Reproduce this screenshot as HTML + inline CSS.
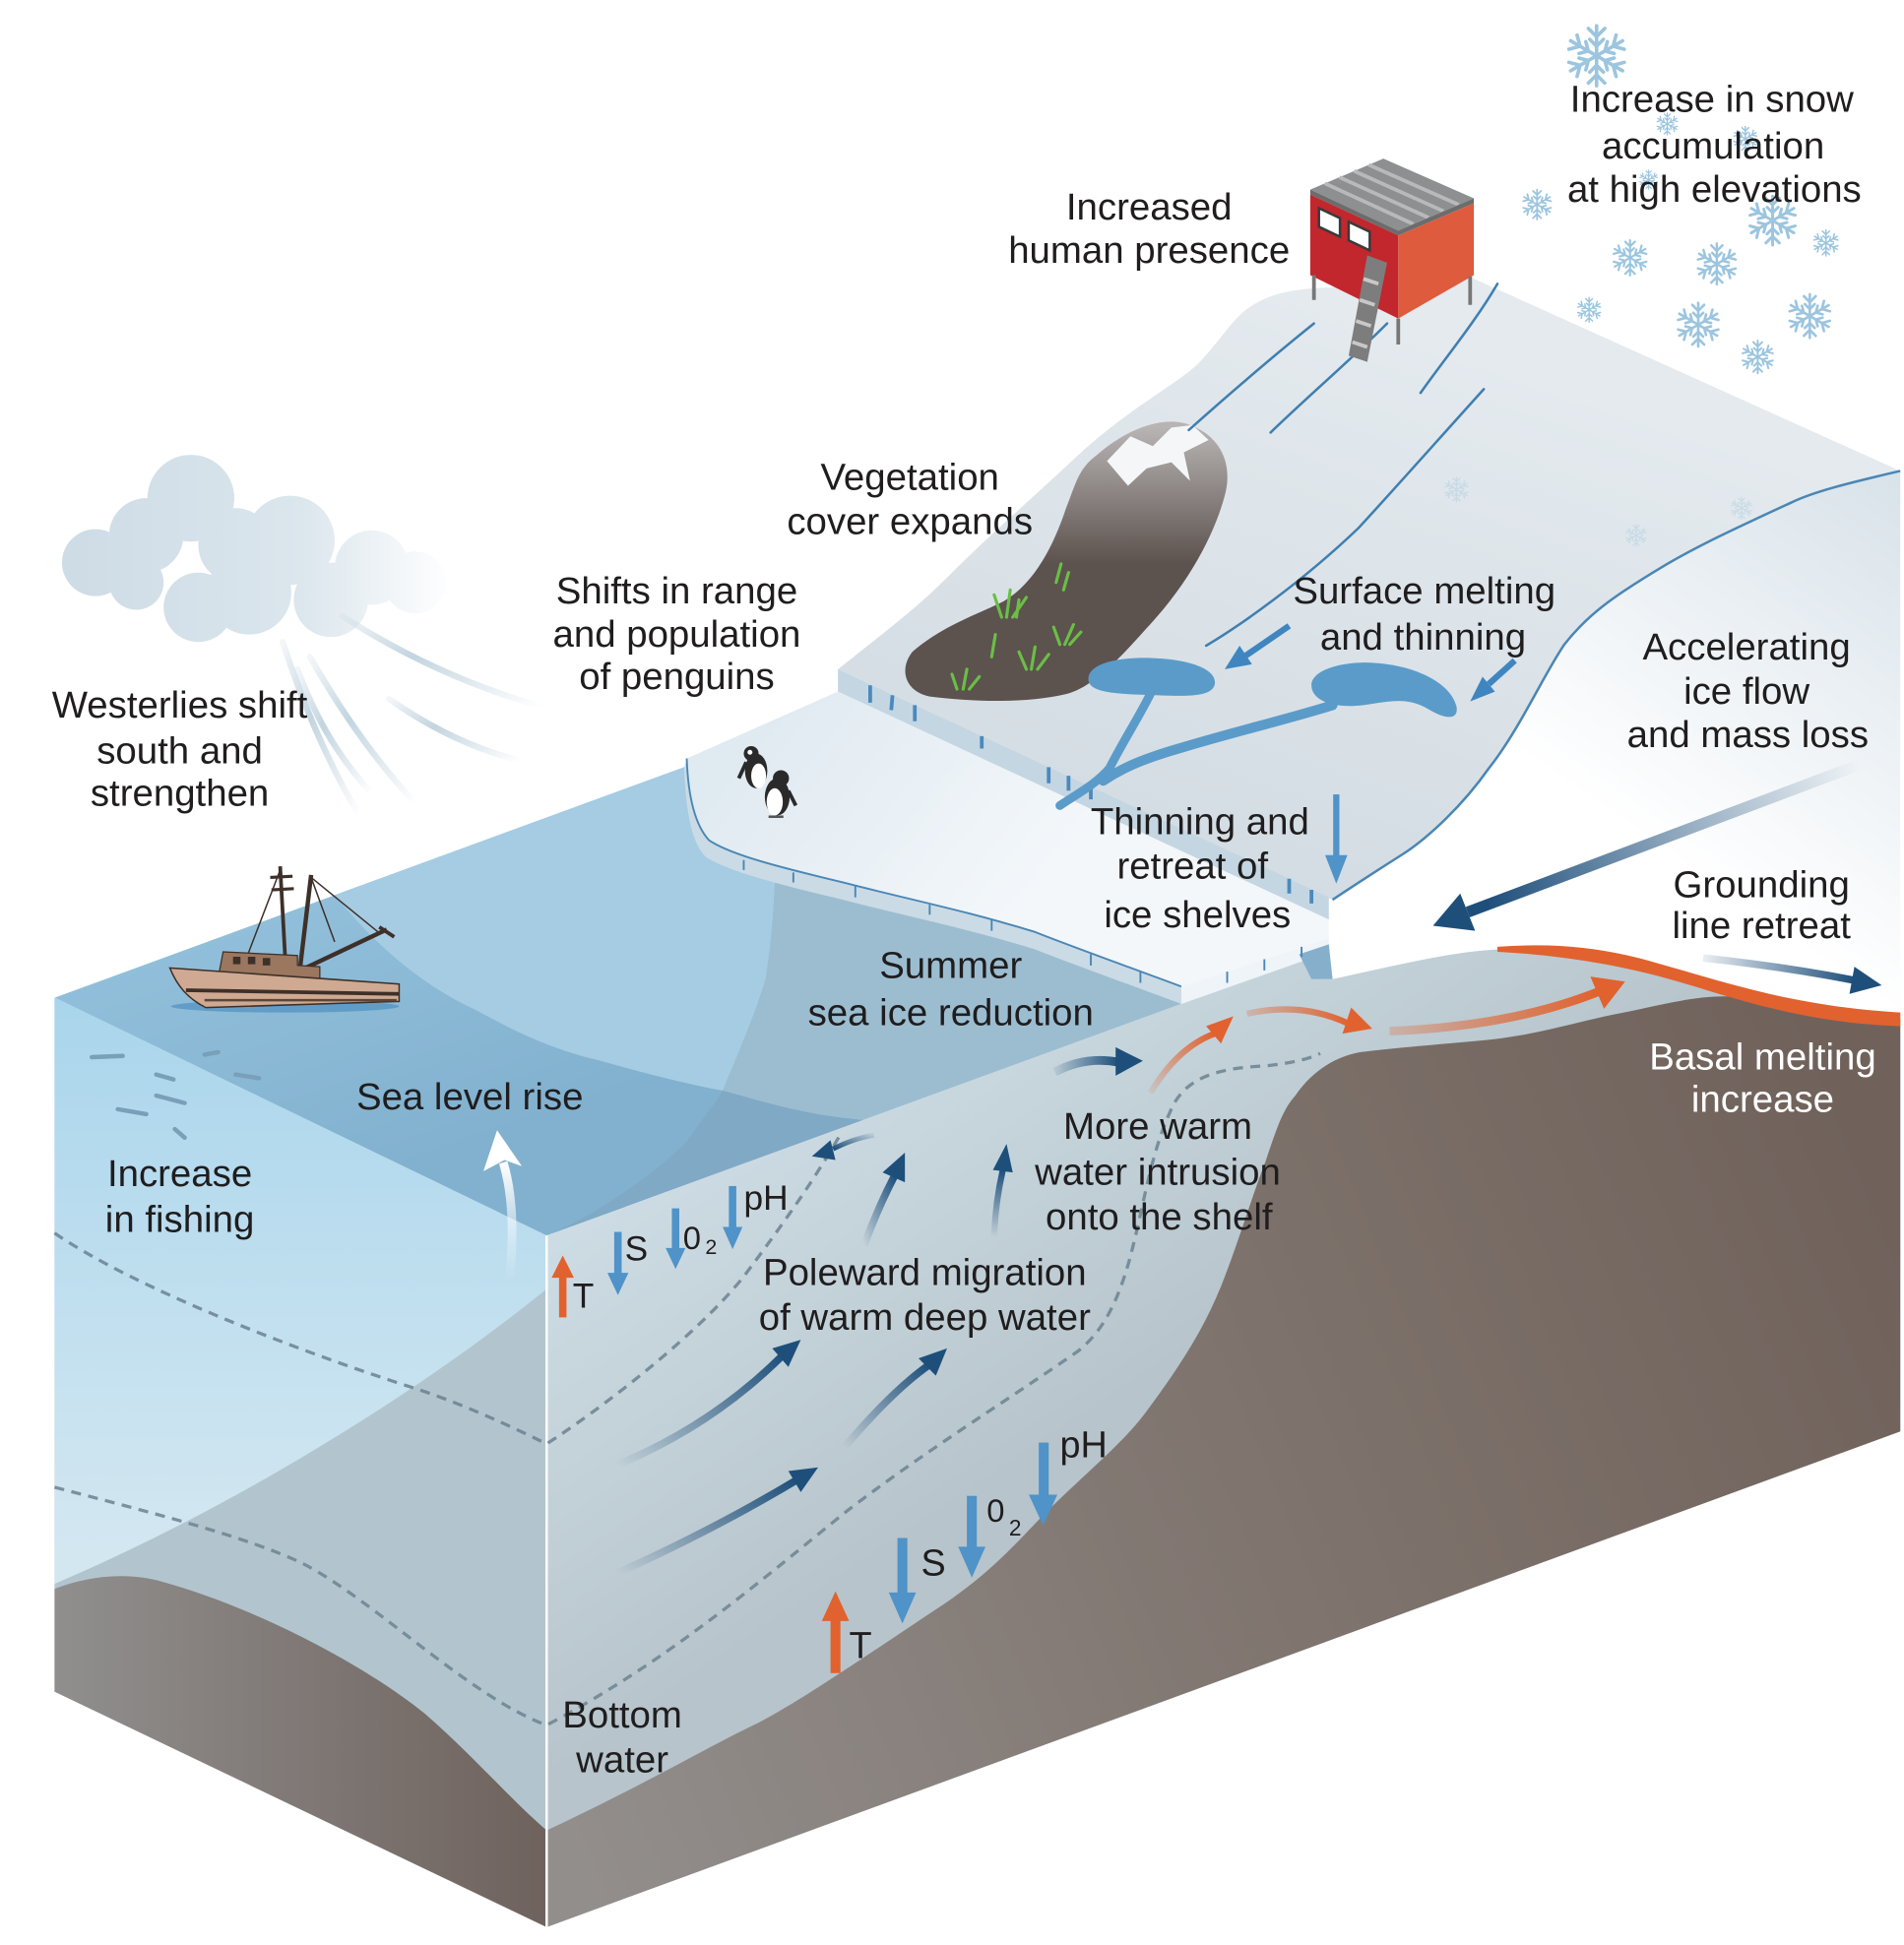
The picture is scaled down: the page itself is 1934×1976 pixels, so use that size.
<!DOCTYPE html>
<html><head><meta charset="utf-8"><style>html,body{margin:0;padding:0;background:#fff;}svg{display:block;}</style></head>
<body>
<svg width="1934" height="1976" viewBox="0 0 1536 1569.4" preserveAspectRatio="none" xmlns="http://www.w3.org/2000/svg">
<defs>
<linearGradient id="gTop" gradientUnits="userSpaceOnUse" x1="250" y1="712" x2="330" y2="940"><stop offset="0" stop-color="#92c0db"/><stop offset="1" stop-color="#82b1cf"/></linearGradient>
<linearGradient id="gLeftW" gradientUnits="userSpaceOnUse" x1="0" y1="805" x2="0" y2="1250"><stop offset="0" stop-color="#a9d5ec"/><stop offset="1" stop-color="#d3e7f1"/></linearGradient>
<linearGradient id="gLeftSea" gradientUnits="userSpaceOnUse" x1="44" y1="0" x2="441" y2="0"><stop offset="0" stop-color="#908f8e"/><stop offset="1" stop-color="#6f625d"/></linearGradient>
<linearGradient id="gFrontW" gradientUnits="userSpaceOnUse" x1="450" y1="1000" x2="650" y2="1300"><stop offset="0" stop-color="#cddce4"/><stop offset="1" stop-color="#b7c4cb"/></linearGradient>
<linearGradient id="gFrontSea" gradientUnits="userSpaceOnUse" x1="441" y1="1450" x2="1532" y2="1000"><stop offset="0" stop-color="#928e8c"/><stop offset="0.5" stop-color="#80756f"/><stop offset="1" stop-color="#70625b"/></linearGradient>
<linearGradient id="gIce" gradientUnits="userSpaceOnUse" x1="1100" y1="250" x2="950" y2="700"><stop offset="0" stop-color="#e4eaee"/><stop offset="1" stop-color="#d3dce3"/></linearGradient>
<linearGradient id="gIceR" gradientUnits="userSpaceOnUse" x1="1530" y1="390" x2="1330" y2="680"><stop offset="0" stop-color="#d9e3ea"/><stop offset="1" stop-color="#ffffff"/></linearGradient>
<linearGradient id="gCloud" gradientUnits="userSpaceOnUse" x1="60" y1="0" x2="365" y2="0"><stop offset="0" stop-color="#cedce6"/><stop offset="0.6" stop-color="#dbe6ed"/><stop offset="1" stop-color="#ffffff"/></linearGradient>
<linearGradient id="gRock" gradientUnits="userSpaceOnUse" x1="0" y1="345" x2="0" y2="455"><stop offset="0" stop-color="#b8b4b3"/><stop offset="1" stop-color="#5c524e"/></linearGradient>
<linearGradient id="gSlab" gradientUnits="userSpaceOnUse" x1="600" y1="600" x2="800" y2="760"><stop offset="0" stop-color="#e0eaf1"/><stop offset="1" stop-color="#f3f7fa"/></linearGradient>
<linearGradient id="gNBL" x1="0" y1="1" x2="1" y2="0"><stop offset="0" stop-color="#1e4f7b" stop-opacity="0"/><stop offset="1" stop-color="#1e4f7b"/></linearGradient>
<linearGradient id="gNLR" x1="0" y1="0" x2="1" y2="0"><stop offset="0" stop-color="#1e4f7b" stop-opacity="0.1"/><stop offset="1" stop-color="#1e4f7b"/></linearGradient>
<linearGradient id="gNRL" x1="1" y1="0" x2="0" y2="1"><stop offset="0" stop-color="#1e4f7b" stop-opacity="0.1"/><stop offset="1" stop-color="#1e4f7b"/></linearGradient>
<linearGradient id="gE" gradientUnits="userSpaceOnUse" x1="0" y1="998" x2="0" y2="944"><stop offset="0" stop-color="#1e4f7b" stop-opacity="0"/><stop offset="1" stop-color="#1e4f7b"/></linearGradient>
<linearGradient id="gK" gradientUnits="userSpaceOnUse" x1="1500" y1="617" x2="1200" y2="730"><stop offset="0" stop-color="#1e4f7b" stop-opacity="0"/><stop offset="1" stop-color="#1e4f7b"/></linearGradient>
<linearGradient id="gOBL" x1="0" y1="1" x2="1" y2="0"><stop offset="0" stop-color="#e1622e" stop-opacity="0.1"/><stop offset="1" stop-color="#e1622e"/></linearGradient>
<linearGradient id="gOLR" x1="0" y1="0" x2="1" y2="0"><stop offset="0" stop-color="#e1622e" stop-opacity="0.25"/><stop offset="1" stop-color="#e1622e"/></linearGradient>
<linearGradient id="gWh" gradientUnits="userSpaceOnUse" x1="0" y1="1032" x2="0" y2="938"><stop offset="0" stop-color="#ffffff" stop-opacity="0"/><stop offset="1" stop-color="#ffffff"/></linearGradient>
<linearGradient id="gStreak" x1="0" y1="0" x2="1" y2="1"><stop offset="0" stop-color="#c3d5e0" stop-opacity="0.2"/><stop offset="0.4" stop-color="#c3d5e0"/><stop offset="1" stop-color="#c3d5e0" stop-opacity="0"/></linearGradient>
<clipPath id="topClip"><polygon points="44,805 560,616 720,700 953,810 441,997"/></clipPath>
<g id="arm"><path d="M0,0V-11M0,-7L-3,-10M0,-7L3,-10M0,-3.5L-2.5,-6M0,-3.5L2.5,-6"/></g>
<g id="sf" stroke="#9cc5df" stroke-width="1.3" fill="none" stroke-linecap="round">
<use href="#arm"/><use href="#arm" transform="rotate(60)"/><use href="#arm" transform="rotate(120)"/><use href="#arm" transform="rotate(180)"/><use href="#arm" transform="rotate(240)"/><use href="#arm" transform="rotate(300)"/>
</g>
</defs>

<rect x="0" y="0" width="1536" height="1569.4" fill="#fff"/>

<!-- Cloud -->
<g fill="url(#gCloud)">
<circle cx="154" cy="402" r="35"/><circle cx="77" cy="454" r="27"/><circle cx="118" cy="432" r="30"/>
<circle cx="234" cy="436" r="36"/><circle cx="201" cy="478" r="34"/><circle cx="160" cy="490" r="28"/>
<circle cx="267" cy="484" r="30"/><circle cx="300" cy="458" r="30"/><circle cx="335" cy="470" r="25"/>
<circle cx="110" cy="470" r="22"/><circle cx="190" cy="440" r="30"/>
</g>
<g fill="none" stroke="url(#gStreak)" stroke-width="5" stroke-linecap="round">
<path d="M228,518 Q255,600 290,658"/>
<path d="M250,530 Q290,600 335,648"/>
<path d="M276,497 Q350,545 436,570"/>
<path d="M314,564 Q365,600 420,614"/>
<path d="M240,540 Q262,600 300,640"/>
</g>

<!-- Snowflakes -->
<use href="#sf" transform="translate(1288,45) scale(2.2)"/>
<use href="#sf" transform="translate(1240,165) scale(1.1)"/>
<use href="#sf" transform="translate(1315,208) scale(1.3)"/>
<use href="#sf" transform="translate(1385,213) scale(1.5)"/>
<use href="#sf" transform="translate(1430,178) scale(1.8)"/>
<use href="#sf" transform="translate(1473,196) scale(0.95)"/>
<use href="#sf" transform="translate(1370,262) scale(1.6)"/>
<use href="#sf" transform="translate(1460,255) scale(1.6)"/>
<use href="#sf" transform="translate(1418,288) scale(1.2)"/>
<use href="#sf" transform="translate(1282,250) scale(0.9)"/>
<use href="#sf" transform="translate(1345,100) scale(0.8)"/>
<use href="#sf" transform="translate(1408,112) scale(0.9)"/>
<use href="#sf" transform="translate(1330,145) scale(0.7)"/>

<!-- Ocean top face -->
<g clip-path="url(#topClip)">
<polygon points="44,805 560,616 720,700 953,810 441,997" fill="url(#gTop)"/>
<path d="M270,722 C300,760 340,795 384,815 C420,835 450,848 481,855 C520,866 555,875 583,880 C600,840 612,810 618,789 C622,760 627,730 627,600 L270,600 Z" fill="#a5cce2"/>
<path d="M627,600 C627,730 622,760 618,789 C612,810 600,840 583,880 C620,890 650,900 700,904 L980,800 L980,600 Z" fill="#9cbdd0"/>
<path d="M583,880 C620,890 650,900 700,904 L441,997 C470,985 520,955 554,921 C565,905 575,893 583,880 Z" fill="#80a9c6"/>
</g>

<!-- Left face -->
<polygon points="44,805 441,997 441,1555 44,1365" fill="#b2c5cf"/>
<path d="M44,805 L441,997 L441,1040 C330,1130 180,1220 44,1278 Z" fill="url(#gLeftW)"/>
<path d="M44,1282 C70,1272 100,1268 130,1276 C200,1295 290,1340 343,1383 C380,1415 410,1450 441,1477 L441,1555 L44,1365 Z" fill="url(#gLeftSea)"/>

<!-- Front face water -->
<path d="M441,997 L953,810 L1072,768 L1075,790 C1130,778 1170,768 1208,766 C1260,764 1300,768 1340,778 C1400,795 1450,812 1533,822 L1533,1155 L441,1555 Z" fill="url(#gFrontW)"/>
<!-- Front seabed -->
<path d="M441,1477 C520,1440 570,1410 612,1390 C650,1370 700,1335 762,1294 C800,1268 820,1245 843,1221 C880,1185 905,1165 924,1140 C950,1105 970,1075 985,1038 C1000,1000 1010,965 1021,937 C1030,910 1035,895 1045,884 C1060,862 1080,852 1097,849 C1130,845 1170,842 1201,839 C1240,835 1270,825 1305,818 C1340,811 1365,804 1391,804 C1430,804 1460,812 1533,818 L1533,1155 L441,1555 Z" fill="url(#gFrontSea)"/>
<path d="M441,997 L441,1555" stroke="#fff" stroke-width="2"/>

<!-- Ice right cross-section -->
<path d="M1533,380 C1490,390 1462,397 1444,406 C1405,424 1370,440 1340,458 C1300,482 1280,497 1262,520 C1245,545 1225,590 1201,620 C1180,650 1152,676 1132,689 C1110,703 1090,716 1075,726 L1075,790 C1130,778 1170,768 1208,766 C1260,764 1300,768 1340,778 C1400,795 1450,812 1533,822 Z" fill="url(#gIceR)"/>

<!-- Ice top surface -->
<path d="M676,540 C720,505 740,490 764,466 C800,430 835,400 870,367 C905,335 935,318 959,300 C978,285 990,262 1005,250 C1020,239 1035,235 1055,233 L1187,224 L1533,380 C1490,390 1462,397 1444,406 C1405,424 1370,440 1340,458 C1300,482 1280,497 1262,520 C1245,545 1225,590 1201,620 C1180,650 1152,676 1132,689 C1110,703 1090,716 1075,726 Z" fill="url(#gIce)"/>
<path d="M1533,380 C1490,390 1462,397 1444,406 C1405,424 1370,440 1340,458 C1300,482 1280,497 1262,520 C1245,545 1225,590 1201,620 C1180,650 1152,676 1132,689 C1110,703 1090,716 1075,726" fill="none" stroke="#4a86b5" stroke-width="2"/>
<g opacity="0.35">
<use href="#sf" transform="translate(1175,395) scale(0.9)"/>
<use href="#sf" transform="translate(1320,432) scale(0.8)"/>
<use href="#sf" transform="translate(1405,410) scale(0.8)"/>
</g>

<!-- Upper shelf front face -->
<polygon points="676,540 1072,724 1072,742 676,558" fill="#c4d6e2"/>
<path d="M702,553 l0,14 M720,561 l-1,12 M738,569 l0,13 M792,594 l0,10 M846,619 l0,13 M862,626 l0,12 M880,635 l0,10 M1040,709 l0,12 M1058,718 l0,11" stroke="#4a89bd" stroke-width="3"/>

<!-- Lower slab -->
<path d="M554,612 L676,558 L1072,742 L1072,757 L953,796 C910,780 860,762 835,752 C780,735 730,725 680,712 C630,700 590,690 572,678 C560,665 555,640 554,612 Z" fill="url(#gSlab)"/>
<path d="M554,612 C555,640 560,665 572,678 C590,690 630,700 680,712 C730,725 780,735 835,752 C860,762 910,780 953,796 L953,810 C910,794 860,776 835,766 C780,749 730,739 680,726 C630,714 590,704 570,692 C557,680 553,650 552,620 Z" fill="#cadbe6"/>
<path d="M554,612 C555,640 560,665 572,678 C590,690 630,700 680,712 C730,725 780,735 835,752 C860,762 910,780 953,796" fill="none" stroke="#4a86b5" stroke-width="1.5"/>
<polygon points="953,796 1072,757 1072,768 953,810" fill="#eef4f8"/>
<polygon points="1048,770 1072,762 1075,790 1058,790" fill="#86afcc"/>
<path d="M600,694 l0,8 M640,704 l0,8 M690,715 l0,9 M750,730 l0,8 M800,742 l0,9 M880,770 l0,9 M920,784 l0,9 M990,784 l0,9 M1020,774 l0,9 M1050,764 l0,8" stroke="#4a86b5" stroke-width="1.5"/>

<!-- Rock with vegetation -->
<path d="M885,367 C910,345 940,335 960,343 C985,352 995,375 988,400 C980,430 960,470 924,508 C900,535 880,555 860,560 C830,567 790,567 750,562 C730,558 725,540 736,526 C760,505 790,495 810,485 C835,470 850,440 860,410 C868,390 870,378 885,367 Z" fill="url(#gRock)"/>
<path d="M893,372 L912,352 L930,360 L945,345 L962,343 L975,355 L955,365 L960,388 L945,373 L925,378 L910,392 Z" fill="#f4f6f8"/>
<g stroke="#6abf45" stroke-width="2.5" fill="none" stroke-linecap="round">
<path d="M808,498 L802,480 M812,498 L815,476 M817,498 L828,482 M820,498 L822,484"/>
<path d="M852,470 L856,455 M858,476 L862,462"/>
<path d="M828,540 L822,526 M832,540 L835,522 M837,540 L846,528"/>
<path d="M855,520 L850,506 M859,520 L866,504 M863,520 L872,510"/>
<path d="M772,556 L768,544 M777,556 L780,540 M782,556 L790,546"/>
<path d="M800,530 L803,512"/>
</g>

<!-- Lakes and channels -->
<g fill="#5b9bc9">
<path d="M878,548 C878,535 903,530 930,531 C960,532 982,540 980,552 C978,562 960,562 935,561 C905,560 878,560 878,548 Z"/>
<path d="M1058,553 C1058,540 1085,533 1110,535 C1140,537 1170,550 1175,570 C1177,582 1165,580 1152,572 C1135,562 1120,566 1100,569 C1075,572 1058,565 1058,553 Z"/>
</g>
<g fill="none" stroke="#5b9bc9" stroke-linecap="round">
<path d="M928,560 C918,580 905,600 895,620 C885,632 870,640 855,650" stroke-width="7"/>
<path d="M1075,569 C1040,580 990,592 951,604 C920,613 905,620 890,630" stroke-width="8"/>
</g>
<!-- Crevasses -->
<g fill="none" stroke="#3f7fb0" stroke-width="2" stroke-linecap="round">
<path d="M1060,261 C1030,285 995,315 959,347"/>
<path d="M1119,261 C1090,290 1055,320 1025,349"/>
<path d="M1208,229 C1190,260 1165,290 1146,317"/>
<path d="M1197,314 C1160,355 1120,400 1096,426 C1050,470 1000,505 973,521"/>
</g>

<!-- House -->
<polygon points="1057,153 1116,128 1189,160 1128,186" fill="#8e8f91"/>
<g stroke="#b8b9bb" stroke-width="3">
<path d="M1068.8,148 L1140.2,180.8 M1080.6,143 L1152.4,175.6 M1092.4,138 L1164.6,170.4 M1104.2,133 L1176.8,165.2"/>
</g>
<polygon points="1057,153 1128,186 1189,160 1189,164 1128,190 1057,157" fill="#6c6c6c"/>
<polygon points="1057,157 1128,190 1128,257 1057,222" fill="#c1272d"/>
<polygon points="1128,190 1189,164 1189,222 1128,257" fill="#de5b3e"/>
<polygon points="1064,168 1081,176 1081,191 1064,183" fill="#fff" stroke="#3a3a3a" stroke-width="2"/>
<polygon points="1088,179 1105,187 1105,202 1088,194" fill="#fff" stroke="#3a3a3a" stroke-width="2"/>
<path d="M1060,222 L1060,242 M1128,257 L1128,278 M1186,223 L1186,246" stroke="#777" stroke-width="3"/>
<polygon points="1103,206 1119,212 1103,292 1088,287" fill="#7d7d7d"/>
<path d="M1100,225 l12,4 M1097,242 l12,4 M1094,259 l12,4 M1091,276 l12,4" stroke="#c8c8c8" stroke-width="3"/>

<!-- Dashed lines -->
<g fill="none" stroke="#6b8291" stroke-width="2.6" stroke-dasharray="8 6" opacity="0.85">
<path d="M44,995 C110,1040 240,1090 334,1120 C380,1135 420,1155 441,1165 C480,1140 560,1080 600,1030 C630,990 655,955 677,917"/>
<path d="M44,1200 C120,1220 200,1240 245,1262 C300,1290 380,1370 441,1392 C540,1340 620,1270 681,1221 C740,1175 820,1125 870,1090 C920,1050 915,960 944,897 C955,870 980,862 1021,860 C1040,858 1055,855 1065,850"/>
</g>

<!-- Fish -->
<g stroke="#7a9fb8" stroke-width="3.5" stroke-linecap="round">
<path d="M74,853 L99,852 M126,867 L140,871 M126,884 L149,890 M95,895 L118,899 M141,911 L149,918 M165,851 L176,849 M190,867 L209,870"/>
</g>

<!-- Orange basal line -->
<path d="M1208,764 C1260,760 1300,766 1340,778 C1400,795 1450,812 1533,817 L1533,828 C1470,826 1420,812 1380,800 C1330,784 1280,772 1208,768 Z" fill="#e1622e"/>

<!-- Navy arrows -->
<g fill="none" stroke-linecap="butt">
<path d="M498,1182 Q575,1150 632,1093" stroke="url(#gNBL)" stroke-width="6"/>
<path d="M681,1168 Q720,1122 750,1101" stroke="url(#gNBL)" stroke-width="6"/>
<path d="M499,1269 Q580,1232 643,1194" stroke="url(#gNBL)" stroke-width="6"/>
<path d="M697,1005 Q708,975 722,948" stroke="url(#gNBL)" stroke-width="6"/>
<path d="M802,998 Q803,970 809,944" stroke="url(#gE)" stroke-width="5"/>
<path d="M705,916 Q690,918 672,927" stroke="url(#gNRL)" stroke-width="4"/>
<path d="M851,865 Q875,852 902,857" stroke="url(#gNLR)" stroke-width="7"/>
<path d="M1500,617 L1184,736" stroke="url(#gK)" stroke-width="9"/>
<path d="M1374,773 Q1440,780 1496,791" stroke="url(#gNLR)" stroke-width="6"/>
<path d="M928,882 Q950,845 980,834" stroke="url(#gOBL)" stroke-width="5"/>
<path d="M1006,818 Q1050,808 1088,826" stroke="url(#gOLR)" stroke-width="5"/>
<path d="M1121,832 Q1220,828 1290,800" stroke="url(#gOLR)" stroke-width="7"/>
<path d="M411,1032 Q417,975 406,938" stroke="url(#gWh)" stroke-width="7"/>
</g>
<g fill="#1e4f7b">
<polygon points="646,1081 636,1103 623,1088"/>
<polygon points="764,1088 755,1110 741,1096"/>
<polygon points="660,1184 646,1204 636,1187"/>
<polygon points="730,930 730,954 712,946"/>
<polygon points="812,923 817,946 801,944"/>
<polygon points="655,933 674,936 670,920"/>
<polygon points="922,856 900,868 900,845"/>
<polygon points="1156,747 1190,751 1178,721"/>
<polygon points="1518,795 1492,802 1496,780"/>
</g>
<g fill="#e1622e">
<polygon points="995,820 985,842 973,828"/>
<polygon points="1107,830 1083,834 1090,813"/>
<polygon points="1311,792 1294,814 1283,788"/>
</g>
<polygon points="401,912 421,941 407,936 390,945" fill="#fff"/>

<!-- Light blue arrows -->
<g fill="#4f93c8">
<rect x="1075.5" y="641" width="5" height="52"/>
<polygon points="1069,690 1087,690 1078,713"/>
<rect x="495.5" y="994" width="6" height="34"/><polygon points="490,1027 507,1027 498.5,1045"/>
<rect x="542" y="975" width="6" height="33"/><polygon points="537,1007 553,1007 545,1024"/>
<rect x="588" y="957" width="6" height="34"/><polygon points="583,990 599,990 591,1008"/>
<rect x="838" y="1164" width="8" height="44"/><polygon points="830,1206 853,1206 841.5,1231"/>
<rect x="780" y="1207" width="8" height="43"/><polygon points="773,1248 795,1248 784,1273"/>
<rect x="724" y="1241" width="8" height="46"/><polygon points="717,1285 739,1285 728,1310"/>
</g>
<g fill="#3f86c0">
<path d="M1040,505 L1005,529" stroke="#3f86c0" stroke-width="5"/>
<polygon points="988,540 1010,536 1000,521"/>
<path d="M1222,533 L1201,552" stroke="#3f86c0" stroke-width="5"/>
<polygon points="1186,566 1206,558 1196,546"/>
</g>
<g fill="#e1622e">
<rect x="451" y="1030" width="6" height="33"/><polygon points="445,1031 463,1031 454,1013"/>
<rect x="670" y="1306" width="8" height="44"/><polygon points="663,1308 685,1308 674,1284"/>
</g>

<!-- Boat -->
<g>
<ellipse cx="230" cy="812" rx="92" ry="5" fill="#4f90c2" opacity="0.7"/>
<path d="M226,699 L231,790" stroke="#3d3029" stroke-width="3"/>
<path d="M218,708 L236,707 M219,718 L237,717" stroke="#3d3029" stroke-width="2.5"/>
<path d="M251,706 L241,790" stroke="#3d3029" stroke-width="3.5"/>
<path d="M226,702 L200,770 M251,708 L270,760 M251,708 L305,752" stroke="#3d3029" stroke-width="1.2"/>
<path d="M236,786 L312,750" stroke="#3d3029" stroke-width="3.5"/>
<path d="M306,748 L318,756" stroke="#3d3029" stroke-width="3"/>
<path d="M180,768 L240,771 L240,779 L258,780 L258,797 L175,794 Z" fill="#9b775f" stroke="#3d3029" stroke-width="1"/>
<rect x="188" y="772" width="6" height="6" fill="#3d3029"/><rect x="200" y="772" width="6" height="6" fill="#3d3029"/><rect x="212" y="773" width="6" height="6" fill="#3d3029"/>
<path d="M137,781 L322,794 L322,808 L166,813 C152,806 143,796 137,781 Z" fill="#cfa991" stroke="#3d3029" stroke-width="1.2"/>
<path d="M150,799 L322,802" stroke="#3d3029" stroke-width="3"/>
<path d="M165,807 L320,807" stroke="#5a4638" stroke-width="2"/>
</g>

<!-- Penguins -->
<g>
<ellipse cx="610" cy="622" rx="9" ry="14" fill="#2a2a2a"/>
<ellipse cx="612" cy="626" rx="6" ry="10" fill="#fff"/>
<circle cx="606" cy="608" r="6" fill="#2a2a2a"/>
<circle cx="605" cy="607" r="2" fill="#fff"/>
<path d="M602,615 L596,628" stroke="#2a2a2a" stroke-width="3"/>
<ellipse cx="627" cy="643" rx="10" ry="15" fill="#2a2a2a"/>
<ellipse cx="625" cy="647" rx="6.5" ry="11" fill="#fff"/>
<circle cx="630" cy="628" r="6.5" fill="#2a2a2a"/>
<path d="M636,638 L642,650" stroke="#2a2a2a" stroke-width="3"/>
<path d="M620,659 L632,659" stroke="#555" stroke-width="2"/>
</g>

<!-- Text -->
<g font-family="'Liberation Sans', Arial, Helvetica, sans-serif" font-size="30.5" fill="#1f1d1e" text-anchor="middle">
<text x="1381" y="90">Increase in snow</text>
<text x="1382" y="128">accumulation</text>
<text x="1383" y="163">at high elevations</text>
<text x="927" y="177">Increased</text>
<text x="927" y="212">human presence</text>
<text x="734" y="395">Vegetation</text>
<text x="734" y="431">cover expands</text>
<text x="546" y="487">Shifts in range</text>
<text x="546" y="522">and population</text>
<text x="546" y="556">of penguins</text>
<text x="1149" y="487">Surface melting</text>
<text x="1148" y="524">and thinning</text>
<text x="1409" y="532">Accelerating</text>
<text x="1409" y="568">ice flow</text>
<text x="1410" y="603">and mass loss</text>
<text x="145" y="579">Westerlies shift</text>
<text x="145" y="616">south and</text>
<text x="145" y="650">strengthen</text>
<text x="968" y="673">Thinning and</text>
<text x="962" y="709">retreat of</text>
<text x="966" y="748">ice shelves</text>
<text x="1421" y="724">Grounding</text>
<text x="1421" y="757">line retreat</text>
<text x="767" y="789">Summer</text>
<text x="767" y="827">sea ice reduction</text>
<text x="1422" y="863" fill="#ffffff">Basal melting</text>
<text x="1422" y="897" fill="#ffffff">increase</text>
<text x="379" y="895">Sea level rise</text>
<text x="145" y="957">Increase</text>
<text x="145" y="994">in fishing</text>
<text x="934" y="919">More warm</text>
<text x="934" y="956">water intrusion</text>
<text x="935" y="992">onto the shelf</text>
<text x="746" y="1037">Poleward migration</text>
<text x="746" y="1073">of warm deep water</text>
<text x="502" y="1394">Bottom</text>
<text x="502" y="1430">water</text>
</g>
<g font-family="'Liberation Sans', Arial, Helvetica, sans-serif" fill="#1f1d1e">
<text x="462" y="1055" font-size="28">T</text>
<text x="504" y="1017" font-size="28">S</text>
<text x="551" y="1008" font-size="26">0</text>
<text x="569" y="1012" font-size="17">2</text>
<text x="600" y="976" font-size="28">pH</text>
<text x="855" y="1176" font-size="30">pH</text>
<text x="796" y="1228" font-size="26">0</text>
<text x="814" y="1239" font-size="18">2</text>
<text x="743" y="1271" font-size="30">S</text>
<text x="685" y="1338" font-size="30">T</text>
</g>
</svg>
</body></html>
